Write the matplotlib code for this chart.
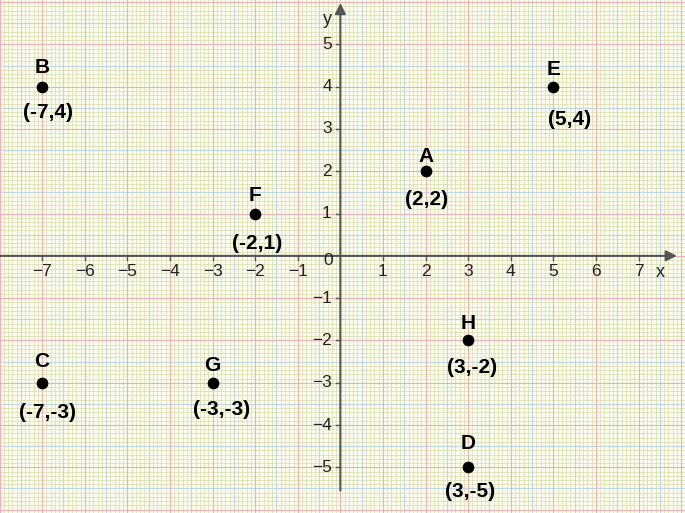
import numpy as np
import matplotlib.pyplot as plt

# points on the plane
names = ['A', 'B', 'C', 'D', 'E', 'F', 'G', 'H']
xs = [2, -7, -7, 3, 5, -2, -3, 3]
ys = [2, 4, -3, -5, 4, 1, -3, -2]
xticks = [-7, -6, -5, -4, -3, -2, -1, 1, 2, 3, 4, 5, 6, 7]
yticks = [-5, -4, -3, -2, -1, 1, 2, 3, 4, 5]

# label placement in pixels (letter above, coordinates below)
name_dy = [15, 19, 21, 24, 17, 18, 17, 17]
coord_dx = [1, 6, 5, 2, 16, 2, 9, 4]
coord_dy = [-28, -26, -30, -24, -33, -30, -27, -27]

plt.rcParams['font.family'] = ['Liberation Sans', 'DejaVu Sans']

fig = plt.figure(figsize=(6.85, 5.13), dpi=100)
ax = fig.add_axes([0, 0, 1, 1])
x0, x1 = -7.99, 8.09
y0, y1 = -6.08, 6.05
ax.set_xlim(x0, x1)
ax.set_ylim(y0, y1)
ax.set_facecolor('#fcfcee')
for s in ax.spines.values():
    s.set_visible(False)
ax.set_xticks([])
ax.set_yticks([])

# graph paper
for v in np.arange(-8, 8.2, 0.1):
    ax.axvline(v, color='#dde0b8', lw=0.6, zorder=0)
for v in np.arange(-6.1, 6.1, 0.1):
    ax.axhline(v, color='#dde0b8', lw=0.6, zorder=0)
for v in np.arange(-7.5, 8.1, 1):
    ax.axvline(v, color='#c3d6e6', lw=0.8, zorder=0.5)
for v in np.arange(-5.5, 6.1, 1):
    ax.axhline(v, color='#c3d6e6', lw=0.8, zorder=0.5)
for v in np.arange(-8, 9, 1):
    ax.axvline(v, color='#e6b4b6', lw=0.8, zorder=0.6)
for v in np.arange(-6, 7, 1):
    ax.axhline(v, color='#e6b4b6', lw=0.8, zorder=0.6)

# axes with arrows
axis_col = '#555555'
ax.annotate('', xy=(7.9, 0), xytext=(x0, 0),
            arrowprops=dict(arrowstyle='-|>', color=axis_col, lw=1.5,
                            mutation_scale=16, shrinkA=0, shrinkB=0), zorder=2)
ax.annotate('', xy=(0, 5.98), xytext=(0, -5.55),
            arrowprops=dict(arrowstyle='-|>', color=axis_col, lw=1.5,
                            mutation_scale=16, shrinkA=0, shrinkB=0), zorder=2)

for t in xticks:
    ax.plot([t, t], [0, -0.1], color=axis_col, lw=1, zorder=2)
    ax.text(t, -0.2, str(t).replace('-', '\u2212'), ha='center', va='top',
            fontsize=12.5, color='#222222')
for t in yticks:
    ax.plot([0, -0.1], [t, t], color=axis_col, lw=1, zorder=2)
    ax.text(-0.2, t, str(t).replace('-', '\u2212'), ha='right', va='center',
            fontsize=12.5, color='#222222')
ax.text(-0.17, -0.1, '0', ha='right', va='center', fontsize=12.5, color='#222222')
ax.text(7.5, -0.2, 'x', ha='center', va='top', fontsize=13, color='#222222')
ax.text(-0.3, 5.6, 'y', ha='center', va='center', fontsize=13, color='#222222')

# points and labels
ax.scatter(xs, ys, s=55, color='black', zorder=3)
for i, n in enumerate(names):
    x, y = xs[i], ys[i]
    ax.annotate(n, (x, y), xytext=(0, name_dy[i]), textcoords='offset pixels',
                ha='center', va='center', fontsize=15, fontweight='bold')
    ax.annotate(f'({x},{y})', (x, y), xytext=(coord_dx[i], coord_dy[i]),
                textcoords='offset pixels', ha='center', va='center',
                fontsize=15, fontweight='bold')

fig.savefig('out.png', dpi=100)
